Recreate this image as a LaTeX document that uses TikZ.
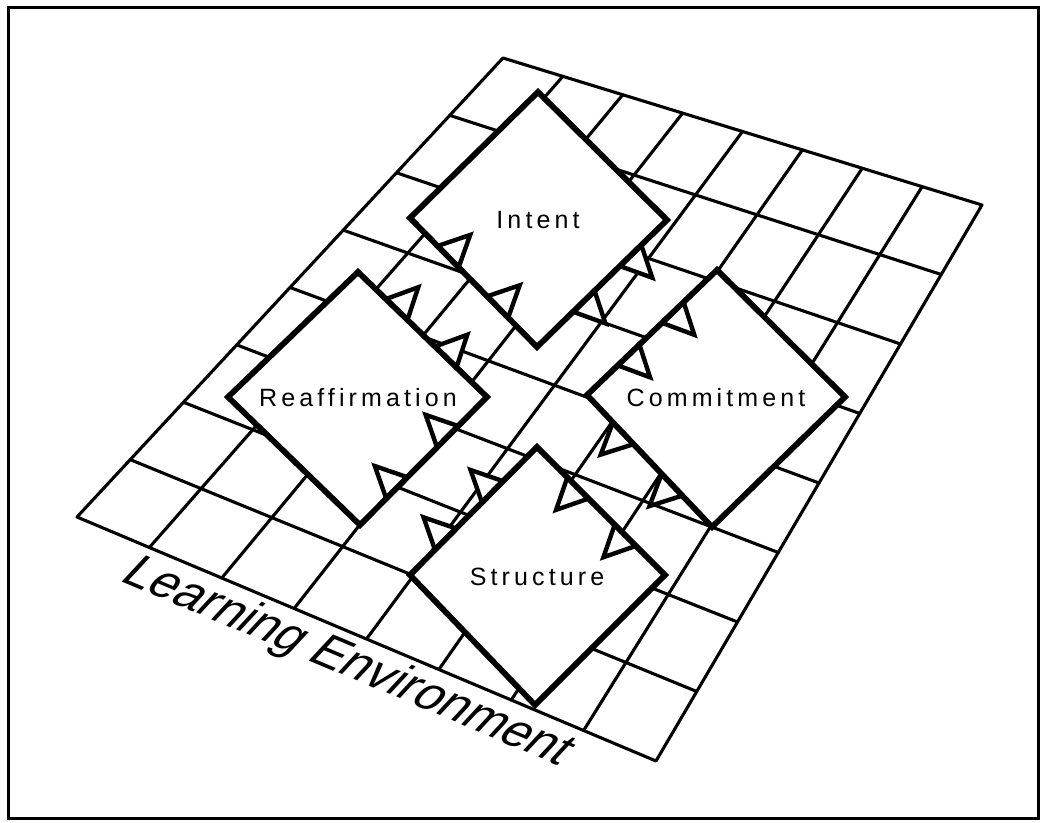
\documentclass[tikz,border=0pt]{standalone}
\usepackage{fontspec}
\setmainfont{Liberation Sans}
\newfontfamily\labfont[LetterSpace=16.5]{Liberation Sans}
\usetikzlibrary{calc}
\newcommand{\drawtooth}[4]{%
  \path ($(#1)!#3!(#2)$) coordinate (m);
  \draw[tooth] ($(m)!7.5pt!(#1)$) -- ($(m)!7.5pt!(#2)$) -- ($(m)!15.5pt!#4:(#2)$) -- cycle;
}
\begin{document}
\begin{tikzpicture}[x=0.5pt,y=-0.5pt,
  gridline/.style={line width=1.55pt, line cap=round, line join=round},
  blockfill/.style={fill=white},
  blockline/.style={draw, line width=2.9pt, line join=miter},
  tooth/.style={draw, fill=white, line width=2.2pt, line join=miter},
  lab/.style={font=\labfont\fontsize{12.5}{15}\selectfont, inner sep=0pt},
  envlab/.style={font=\fontsize{24.4}{28}\selectfont, inner sep=0pt},
  frame/.style={line width=1.5pt}]
\useasboundingbox (0,0) rectangle (1044,823);
\draw[frame] (8,8) rectangle (1038,818);
% grid
\coordinate (A) at (503,58);
\coordinate (B) at (982,205);
\coordinate (C) at (656,761);
\coordinate (D) at (77,517);
\foreach \i in {1,...,7} {
  \draw[gridline] ($(A)!\i/8!(D)$) -- ($(B)!\i/8!(C)$);
  \draw[gridline] ($(A)!\i/8!(B)$) -- ($(D)!\i/8!(C)$);
}
\draw[gridline] (A) -- (B) -- (C) -- (D) -- cycle;
% diamonds
\coordinate (It) at (538,92);  \coordinate (Ir) at (667,220);
\coordinate (Ib) at (537,347); \coordinate (Il) at (410,218);
\coordinate (Rt) at (358,272); \coordinate (Rr) at (487,397);
\coordinate (Rb) at (360,525); \coordinate (Rl) at (228,397);
\coordinate (Ct) at (717,270); \coordinate (Cr) at (845,397);
\coordinate (Cb) at (712,527); \coordinate (Cl) at (587,395);
\coordinate (St) at (537,447); \coordinate (Sr) at (665,575);
\coordinate (Sb) at (535,705); \coordinate (Sl) at (410,575);
\foreach \d in {I,R,C,S} {
  \fill[blockfill] (\d t) -- (\d r) -- (\d b) -- (\d l) -- cycle;
}
% teeth
\drawtooth{Il}{Ib}{0.30}{90}
\drawtooth{Il}{Ib}{0.69}{90}
\drawtooth{Ib}{Ir}{0.36}{-90}
\drawtooth{Ib}{Ir}{0.72}{-90}
\drawtooth{Rt}{Rr}{0.30}{90}
\drawtooth{Rt}{Rr}{0.68}{90}
\drawtooth{Rr}{Rb}{0.31}{-90}
\drawtooth{Rr}{Rb}{0.71}{-90}
\drawtooth{Cl}{Ct}{0.32}{-90}
\drawtooth{Cl}{Ct}{0.66}{-90}
\drawtooth{Cl}{Cb}{0.29}{-90}
\drawtooth{Cl}{Cb}{0.68}{-90}
\drawtooth{Sl}{St}{0.28}{90}
\drawtooth{Sl}{St}{0.65}{90}
\drawtooth{St}{Sr}{0.32}{-90}
\drawtooth{St}{Sr}{0.69}{-90}
\foreach \d in {I,R,C,S} {
  \draw[blockline] (\d t) -- (\d r) -- (\d b) -- (\d l) -- cycle;
}
% labels
\node[lab] (intent) at (538,220) {Intent};
\node[lab] (reaff) at (358,398) {Reaffirmation};
\node[lab] (commit) at (716,398) {Commitment};
\node[lab] (struct) at (537,577) {Structure};
\node[envlab, anchor=base west, rotate=-22.85, xslant=0.365] (env) at (118,580) {Learning Environment};
\end{tikzpicture}
\end{document}
